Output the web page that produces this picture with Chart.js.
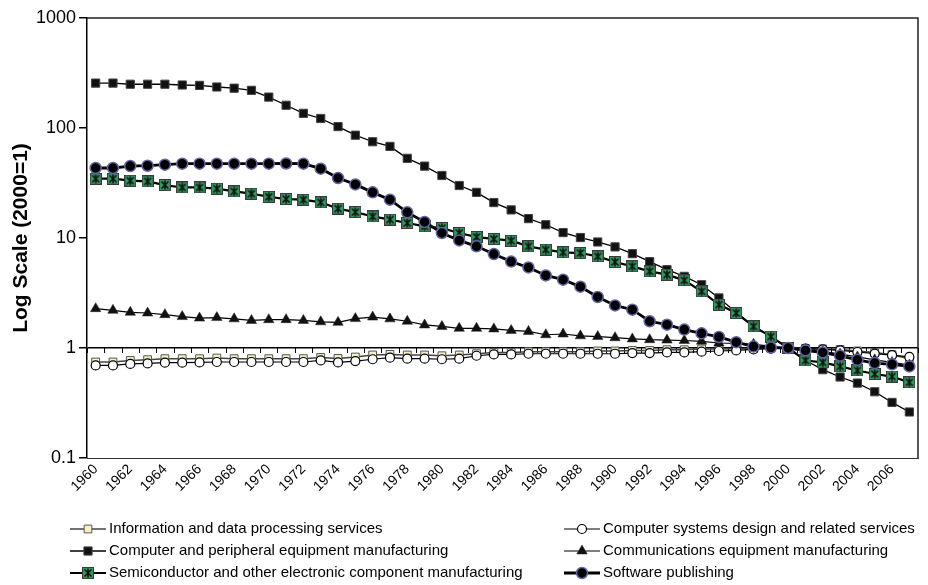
<!DOCTYPE html>
<html>
<head>
<meta charset="utf-8">
<script src="https://cdn.jsdelivr.net/npm/chart.js@4.4.1/dist/chart.umd.min.js"></script>
<style>
  html, body { margin: 0; padding: 0; background: #fff; }
  #wrap { width: 928px; height: 585px; position: relative; }
</style>
</head>
<body>
<div id="wrap"><canvas id="priceIndexChart"></canvas></div>
<script>
// Price indexes by industry, log scale, 2000 = 1
const years = [
    '1960', '1961', '1962', '1963', '1964', '1965', '1966', '1967', '1968', '1969',
    '1970', '1971', '1972', '1973', '1974', '1975', '1976', '1977', '1978', '1979',
    '1980', '1981', '1982', '1983', '1984', '1985', '1986', '1987', '1988', '1989',
    '1990', '1991', '1992', '1993', '1994', '1995', '1996', '1997', '1998', '1999',
    '2000', '2001', '2002', '2003', '2004', '2005', '2006', '2007'
];

const yTicks = [0.1, 1, 10, 100, 1000];

const infoServices = [
    0.746, 0.746, 0.771, 0.783, 0.80, 0.80, 0.80, 0.81, 0.80, 0.80,
    0.80, 0.80, 0.80, 0.82, 0.804, 0.828, 0.864, 0.875, 0.864, 0.864,
    0.85, 0.864, 0.887, 0.912, 0.912, 0.925, 0.925, 0.925, 0.925, 0.94,
    0.94, 0.95, 0.95, 0.965, 0.965, 0.98, 0.98, 0.985, 0.99, 0.995,
    1, 0.99, 0.98, 0.97, 0.94, 0.91, 0.87, 0.80
];

const systemsDesign = [
    0.695, 0.695, 0.716, 0.724, 0.735, 0.735, 0.74, 0.746, 0.746, 0.746,
    0.746, 0.746, 0.746, 0.771, 0.74, 0.76, 0.79, 0.816, 0.80, 0.80,
    0.79, 0.80, 0.85, 0.875, 0.875, 0.887, 0.887, 0.887, 0.887, 0.887,
    0.887, 0.90, 0.90, 0.912, 0.912, 0.925, 0.939, 0.95, 0.97, 0.985,
    1, 0.99, 0.97, 0.95, 0.92, 0.89, 0.86, 0.83
];

const computerEquipment = [
    256, 256, 250, 250, 250, 246, 244, 236, 230, 220,
    191, 161, 136, 122, 103, 86, 75, 68, 53, 45,
    37, 30, 26, 21, 18, 15, 13.2, 11.2, 10.1, 9.2,
    8.3, 7.2, 6.1, 5.15, 4.48, 3.76, 2.85, 2.1, 1.58, 1.27,
    1, 0.77, 0.635, 0.545, 0.48, 0.40, 0.32, 0.262
];

const commsEquipment = [
    2.28, 2.20, 2.11, 2.08, 2.01, 1.93, 1.87, 1.89, 1.84, 1.78,
    1.81, 1.81, 1.78, 1.73, 1.71, 1.85, 1.91, 1.84, 1.75, 1.62,
    1.57, 1.51, 1.51, 1.49, 1.445, 1.415, 1.32, 1.34, 1.29, 1.27,
    1.24, 1.21, 1.19, 1.18, 1.17, 1.15, 1.11, 1.10, 1.08, 1.04,
    1, 0.97, 0.93, 0.88, 0.83, 0.78, 0.74, 0.70
];

const semiconductors = [
    34.6, 34.6, 33.2, 32.7, 30.3, 28.8, 28.8, 28.1, 26.5, 25.3,
    23.7, 22.6, 22.3, 21.1, 18.5, 17.2, 15.7, 14.7, 13.7, 12.75,
    12.3, 11.1, 10.2, 9.8, 9.45, 8.4, 7.83, 7.4, 7.3, 6.8,
    6.05, 5.52, 4.97, 4.64, 4.12, 3.27, 2.48, 2.08, 1.57, 1.27,
    1, 0.77, 0.74, 0.68, 0.625, 0.58, 0.55, 0.487
];

const software = [
    43.3, 43.3, 45.1, 45.4, 46.4, 47.4, 47.4, 47.4, 47.4, 47.4,
    47.4, 47.6, 47.4, 42.7, 35.1, 30.7, 26, 22.3, 17.1, 14.0,
    11.1, 9.5, 8.4, 7.15, 6.1, 5.4, 4.57, 4.18, 3.61, 2.91,
    2.44, 2.23, 1.75, 1.63, 1.47, 1.36, 1.26, 1.13, 1.03, 1.01,
    1, 0.95, 0.91, 0.85, 0.78, 0.73, 0.71, 0.68
];

const FONT = "'Liberation Sans', Arial, Helvetica, sans-serif";
Chart.defaults.font.family = FONT;
Chart.defaults.color = '#000';

// green box with a black asterisk, used as the semiconductor marker
function starBox(size) {
    const c = document.createElement('canvas');
    c.width = size;
    c.height = size;
    const g = c.getContext('2d');
    g.fillStyle = '#2f9a5e';
    g.fillRect(0, 0, size, size);
    g.strokeStyle = '#3a3a3a';
    g.lineWidth = 1;
    g.strokeRect(0.5, 0.5, size - 1, size - 1);
    g.strokeStyle = '#111';
    g.lineWidth = 1.6;
    g.beginPath();
    g.moveTo(2.5, 2.5); g.lineTo(size - 2.5, size - 2.5);
    g.moveTo(size - 2.5, 2.5); g.lineTo(2.5, size - 2.5);
    g.moveTo(size / 2, 1.5); g.lineTo(size / 2, size - 1.5);
    g.stroke();
    return c;
}

const datasets = [
    {
        label: 'Information and data processing services',
        data: infoServices,
        borderColor: '#444', borderWidth: 1.5,
        pointStyle: 'rect', pointRadius: 5.5,
        pointBackgroundColor: '#f4f0c4', pointBorderColor: '#555', pointBorderWidth: 1,
        order: 6
    },
    {
        label: 'Computer systems design and related services',
        data: systemsDesign,
        borderColor: '#000', borderWidth: 1.2,
        pointStyle: 'circle', pointRadius: 4.5,
        pointBackgroundColor: '#fff', pointBorderColor: '#000', pointBorderWidth: 1.2,
        order: 5
    },
    {
        label: 'Computer and peripheral equipment manufacturing',
        data: computerEquipment,
        borderColor: '#000', borderWidth: 1.3,
        pointStyle: 'rect', pointRadius: 5.8,
        pointBackgroundColor: '#111', pointBorderColor: '#444', pointBorderWidth: 1,
        order: 4
    },
    {
        label: 'Communications equipment manufacturing',
        data: commsEquipment,
        borderColor: '#000', borderWidth: 1.2,
        pointStyle: 'triangle', pointRadius: 6,
        pointBackgroundColor: '#111', pointBorderColor: '#222', pointBorderWidth: 0.5,
        order: 3
    },
    {
        label: 'Semiconductor and other electronic component manufacturing',
        data: semiconductors,
        borderColor: '#000', borderWidth: 2.2,
        pointStyle: starBox(12), pointRadius: 6,
        pointBackgroundColor: '#2f9a5e', pointBorderColor: '#111', pointBorderWidth: 1,
        order: 2
    },
    {
        label: 'Software publishing',
        data: software,
        borderColor: '#000', borderWidth: 2.8,
        pointStyle: 'circle', pointRadius: 5.5,
        pointBackgroundColor: '#000', pointBorderColor: '#6464a8', pointBorderWidth: 1.5,
        order: 1
    }
];
datasets.forEach(ds => {
    ds.fill = false;
    ds.tension = 0;
    ds.pointHoverRadius = ds.pointRadius;
});

// box lines on top and right of the plot, plus the tick marks on the y = 1 axis line
const frameAndCrossTicks = {
    id: 'frameAndCrossTicks',
    beforeDatasetsDraw(chart) {
        const { ctx, chartArea } = chart;
        const xs = chart.scales.x;
        const ys = chart.scales.y;
        ctx.save();
        ctx.strokeStyle = '#222';
        ctx.lineWidth = 1.5;
        ctx.beginPath();
        ctx.moveTo(chartArea.left, chartArea.top);
        ctx.lineTo(chartArea.right, chartArea.top);
        ctx.lineTo(chartArea.right, chartArea.bottom);
        ctx.stroke();

        const y1 = ys.getPixelForValue(1);
        const step = xs.getPixelForValue(1) - xs.getPixelForValue(0);
        ctx.lineWidth = 1;
        ctx.strokeStyle = '#000';
        ctx.beginPath();
        for (let i = 0; i <= years.length; i++) {
            const x = Math.round(xs.getPixelForValue(i) - step / 2) + 0.5;
            ctx.moveTo(x, y1);
            ctx.lineTo(x, y1 + 5);
        }
        ctx.stroke();
        ctx.restore();
    }
};

// two-column legend under the axis labels
const legendSlots = [
    { x: 70, y: 529 }, { x: 564, y: 529 },
    { x: 70, y: 551 }, { x: 564, y: 551 },
    { x: 70, y: 573 }, { x: 564, y: 573 }
];

const columnLegend = {
    id: 'columnLegend',
    afterDraw(chart) {
        const { ctx } = chart;
        ctx.save();
        chart.data.datasets.forEach((ds, i) => {
            const slot = legendSlots[i];
            ctx.strokeStyle = ds.borderColor;
            ctx.lineWidth = ds.borderWidth;
            ctx.beginPath();
            ctx.moveTo(slot.x, slot.y);
            ctx.lineTo(slot.x + 36, slot.y);
            ctx.stroke();

            ctx.fillStyle = ds.pointBackgroundColor;
            ctx.strokeStyle = ds.pointBorderColor;
            ctx.lineWidth = ds.pointBorderWidth;
            Chart.helpers.drawPoint(ctx, {
                pointStyle: ds.pointStyle,
                radius: ds.pointRadius,
                borderWidth: ds.pointBorderWidth,
                rotation: 0
            }, slot.x + 18, slot.y);

            ctx.fillStyle = '#000';
            ctx.font = '15px ' + FONT;
            ctx.textAlign = 'left';
            ctx.textBaseline = 'middle';
            ctx.fillText(ds.label, slot.x + 39, slot.y);
        });
        ctx.restore();
    }
};

new Chart(document.getElementById('priceIndexChart').getContext('2d'), {
    type: 'line',
    data: { labels: years, datasets: datasets },
    options: {
        responsive: true,
        maintainAspectRatio: false,
        animation: false,
        layout: { padding: { top: 18, right: 10, left: 0, bottom: 0 } },
        plugins: {
            legend: { display: false },
            tooltip: { enabled: false }
        },
        scales: {
            x: {
                type: 'category',
                offset: true,
                grid: { display: false, drawTicks: false },
                border: { display: true, color: '#333', width: 1 },
                ticks: {
                    autoSkip: false,
                    maxRotation: 45,
                    minRotation: 45,
                    padding: 3,
                    font: { size: 14 },
                    callback: function (value, index) {
                        return index % 2 === 0 ? this.getLabelForValue(value) : '';
                    }
                },
                afterFit: scale => { scale.height = 127; }
            },
            y: {
                type: 'logarithmic',
                min: 0.1,
                max: 1000,
                afterBuildTicks: scale => {
                    scale.ticks = yTicks.map(v => ({ value: v }));
                },
                ticks: {
                    padding: 3,
                    font: { size: 18 },
                    callback: value => String(value)
                },
                grid: {
                    color: ctx => (ctx.tick && ctx.tick.value === 1 ? '#000' : 'rgba(0,0,0,0)'),
                    lineWidth: 1.5,
                    tickColor: '#000',
                    tickLength: 8,
                    tickWidth: 1.5
                },
                border: { display: true, color: '#000', width: 1.5 },
                title: {
                    display: true,
                    text: 'Log Scale (2000=1)',
                    font: { size: 21, weight: 'bold' },
                    padding: { top: 9, bottom: 0 }
                },
                afterFit: scale => { scale.width = 87; }
            }
        }
    },
    plugins: [frameAndCrossTicks, columnLegend]
});
</script>
</body>
</html>
